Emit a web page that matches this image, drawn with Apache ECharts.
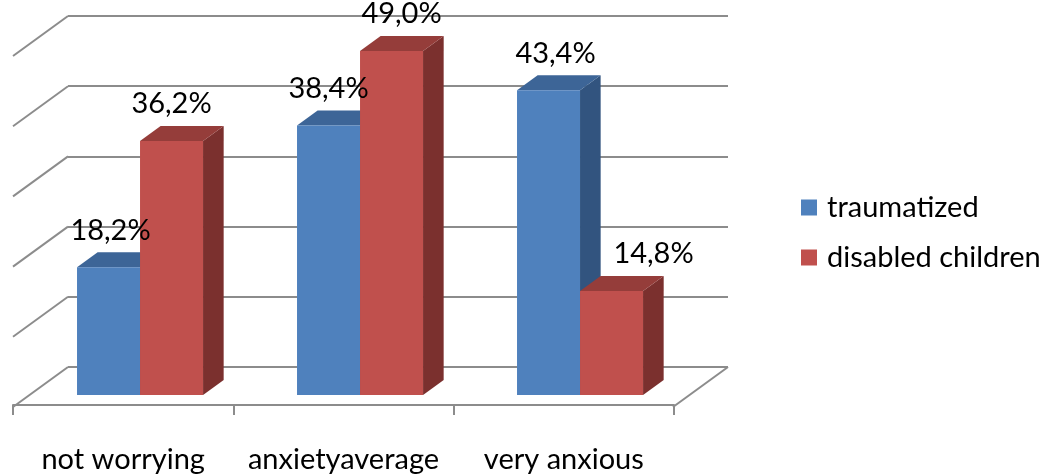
<!DOCTYPE html>
<html>
<head>
<meta charset="utf-8">
<script src="https://cdn.jsdelivr.net/npm/echarts@6/dist/echarts.min.js"></script>
<style>
  html, body { margin: 0; padding: 0; background: #fff; }
  #chart { width: 1047px; height: 474px; }
</style>
</head>
<body>
<div id="chart"></div>
<script>
// Anxiety level by group, percent of respondents
const categories = ['not worrying', 'anxietyaverage', 'very anxious'];
const seriesNames = ['traumatized', 'disabled children'];
const traumatized = [18.2, 38.4, 43.4];
const disabledChildren = [36.2, 49.0, 14.8];
const valueTicks = [0, 10, 20, 30, 40, 50];

// --- styling / layout ---
const FONT = 'Lato, "Open Sans", sans-serif';
const FONT_SIZE = 29;
const GRID_COLOR = '#8c8c8c';
const BACK = { left: 68, top: 16, width: 660, height: 351 };   // back wall
const DEPTH = [-55, 40];                                        // back -> front shift
const FRONT = { left: BACK.left + DEPTH[0], top: BACK.top + DEPTH[1], width: 661, height: 351 };
const BAR_FRONT = 0.7, BAR_BACK = 0.325;                        // bar depth within the floor
const BAR_START = 0.216, BAR_W = 0.2864;                        // fractions of a category band
const palette = [
  { front: '#4f81bd', top: '#3d6597', side: '#32547f' },
  { front: '#c0504d', top: '#953d3a', side: '#7b302e' }
];
const labelNudge = [[2, 0, 7], [0, 10, 42]];                    // horizontal label offsets

function fmt(v) { return v.toFixed(1).replace('.', ',') + '%'; }

// front-face geometry of one bar in pixels
function barGeom(si, api) {
  const cat = api.value(0), val = api.value(1);
  const base = api.coord([cat, 0]);
  const top = api.coord([cat, val]);
  const band = api.size([1, 0])[0];
  const x0 = base[0] - band / 2 + (BAR_START + si * BAR_W) * band;
  const w = BAR_W * band;
  return { cat, val, base, top, x0, w };
}

function barRenderer(si) {
  return function (params, api) {
    const g = barGeom(si, api);
    const fx = DEPTH[0] * BAR_FRONT, fy = DEPTH[1] * BAR_FRONT;
    const bx = DEPTH[0] * BAR_BACK, by = DEPTH[1] * BAR_BACK;
    const FLt = [g.x0 + fx, g.top[1] + fy], FRt = [g.x0 + g.w + fx, g.top[1] + fy];
    const FRb = [g.x0 + g.w + fx, g.base[1] + fy];
    const BLt = [g.x0 + bx, g.top[1] + by], BRt = [g.x0 + g.w + bx, g.top[1] + by];
    const BRb = [g.x0 + g.w + bx, g.base[1] + by];
    const c = palette[si];
    return {
      type: 'group',
      children: [
        { type: 'polygon', shape: { points: [FRt, BRt, BRb, FRb] }, style: { fill: c.side } },
        { type: 'polygon', shape: { points: [FLt, FRt, BRt, BLt] }, style: { fill: c.top } },
        { type: 'rect', shape: { x: FLt[0], y: FLt[1], width: g.w, height: FRb[1] - FRt[1] }, style: { fill: c.front } }
      ]
    };
  };
}

function labelRenderer(si) {
  return function (params, api) {
    const g = barGeom(si, api);
    const fx = DEPTH[0] * BAR_FRONT, fy = DEPTH[1] * BAR_FRONT;
    return {
      type: 'text',
      style: {
        x: g.x0 + fx + g.w / 2 + labelNudge[si][g.cat], y: g.top[1] + fy - 37,
        text: fmt(g.val), fill: '#000', font: FONT_SIZE + 'px ' + FONT,
        align: 'center', verticalAlign: 'middle'
      }
    };
  };
}

// left wall diagonals at every gridline, plus the right floor edge
function wallRenderer(params, api) {
  const v = api.value(0);
  const cs = params.coordSys;
  const y = api.coord([0, v])[1];
  const lines = [
    { type: 'line', shape: { x1: cs.x, y1: y, x2: cs.x + DEPTH[0], y2: y + DEPTH[1] },
      style: { stroke: GRID_COLOR, lineWidth: 2 } }
  ];
  if (v === 0) {
    const xr = cs.x + cs.width;
    lines.push({ type: 'line', shape: { x1: xr, y1: y, x2: xr + DEPTH[0], y2: y + DEPTH[1] },
      style: { stroke: GRID_COLOR, lineWidth: 2 } });
  }
  return { type: 'group', children: lines };
}

const chart = echarts.init(document.getElementById('chart'), null, { renderer: 'canvas' });
chart.setOption({
  animation: false,
  backgroundColor: '#fff',
  textStyle: { fontFamily: FONT },
  grid: [
    { left: BACK.left, top: BACK.top, width: BACK.width, height: BACK.height },
    { left: FRONT.left, top: FRONT.top, width: FRONT.width, height: FRONT.height }
  ],
  xAxis: [
    { type: 'category', data: categories, gridIndex: 0,
      axisLine: { show: false }, axisTick: { show: false }, axisLabel: { show: false } },
    { type: 'category', data: categories, gridIndex: 1,
      axisLine: { show: true, lineStyle: { color: GRID_COLOR, width: 2 } },
      axisTick: { show: true, length: 10, lineStyle: { color: GRID_COLOR, width: 2 } },
      axisLabel: { color: '#000', fontSize: FONT_SIZE, fontFamily: FONT, margin: 40, interval: 0 } }
  ],
  yAxis: [
    { type: 'value', gridIndex: 0, min: valueTicks[0], max: valueTicks[valueTicks.length - 1], interval: 10,
      axisLine: { show: false }, axisTick: { show: false }, axisLabel: { show: false },
      splitLine: { show: true, lineStyle: { color: GRID_COLOR, width: 2 } } },
    { type: 'value', gridIndex: 1, min: 0, max: 50, show: false, splitLine: { show: false } }
  ],
  legend: {
    orient: 'vertical', left: 796, top: 188,
    itemWidth: 16, itemHeight: 16, itemGap: 21, icon: 'rect',
    textStyle: { color: '#000', fontSize: FONT_SIZE, fontFamily: FONT, padding: [0, 0, 0, 5] },
    data: seriesNames
  },
  series: [
    { type: 'custom', name: 'walls', xAxisIndex: 0, yAxisIndex: 0, silent: true,
      renderItem: wallRenderer, data: valueTicks.map(v => [v]), encode: { y: 0 }, z: 1 },
    { type: 'custom', name: seriesNames[0], xAxisIndex: 0, yAxisIndex: 0,
      itemStyle: { color: palette[0].front }, renderItem: barRenderer(0),
      data: traumatized.map((v, i) => [i, v]), encode: { x: 0, y: 1 }, z: 3 },
    { type: 'custom', name: seriesNames[1], xAxisIndex: 0, yAxisIndex: 0,
      itemStyle: { color: palette[1].front }, renderItem: barRenderer(1),
      data: disabledChildren.map((v, i) => [i, v]), encode: { x: 0, y: 1 }, z: 4 },
    { type: 'custom', name: 'labels-0', xAxisIndex: 0, yAxisIndex: 0, silent: true,
      renderItem: labelRenderer(0),
      data: traumatized.map((v, i) => [i, v]), encode: { x: 0, y: 1 }, z: 10 },
    { type: 'custom', name: 'labels-1', xAxisIndex: 0, yAxisIndex: 0, silent: true,
      renderItem: labelRenderer(1),
      data: disabledChildren.map((v, i) => [i, v]), encode: { x: 0, y: 1 }, z: 10 }
  ]
});
</script>
</body>
</html>
